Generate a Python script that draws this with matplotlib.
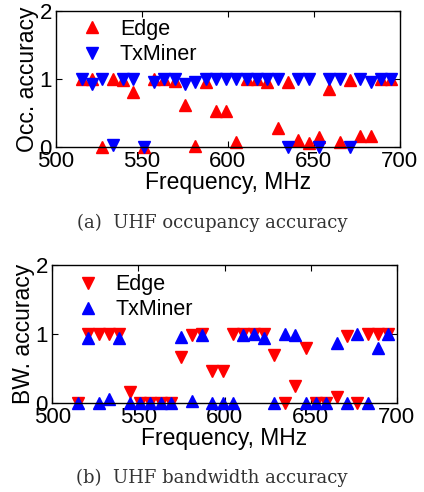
import matplotlib
matplotlib.use("Agg")
import matplotlib.pyplot as plt
import numpy as np

plt.rcParams['font.family'] = ['Liberation Sans', 'DejaVu Sans']

# UHF channel centre frequencies (MHz)
freq = np.array([515, 521, 527, 533, 539, 545, 551, 557, 563, 569, 575, 581, 587, 593, 599, 605,
                 611, 617, 623, 629, 635, 641, 647, 653, 659, 665, 671, 677, 683, 689, 695])

# (a) occupancy accuracy
occ_edge = [1.0, 1.0, 0.0, 1.0, 0.98, 0.81, 0.0, 1.0, 1.0, 0.97, 0.62, 0.02, 0.96, 0.53, 0.53, 0.08,
            1.0, 1.0, 0.96, 0.28, 0.95, 0.11, 0.06, 0.15, 0.86, 0.08, 0.99, 0.17, 0.17, 1.0, 1.0]
occ_txminer = [1.0, 0.93, 1.0, 0.03, 1.0, 1.0, 0.0, 0.95, 1.0, 1.0, 0.93, 0.95, 1.0, 1.0, 1.0, 1.0,
               1.0, 1.0, 1.0, 1.0, 0.0, 1.0, 1.0, 0.0, 1.0, 1.0, 0.0, 1.0, 0.95, 1.0, 1.0]

# (b) bandwidth accuracy
bw_edge = [0.0, 1.0, 1.0, 1.0, 1.0, 0.16, 0.0, 0.0, 0.0, 0.0, 0.66, 0.98, 1.0, 0.46, 0.46, 1.0,
           1.0, 1.0, 1.0, 0.70, 0.0, 0.25, 0.80, 0.0, 0.0, 0.09, 0.97, 0.0, 1.0, 1.0, 1.0]
bw_txminer = [0.0, 0.95, 0.0, 0.06, 0.95, 0.0, 0.0, 0.0, 0.0, 0.0, 0.96, 0.03, 0.98, 0.0, 0.0, 0.0,
              0.98, 1.0, 0.95, 0.0, 1.0, 0.98, 0.0, 0.0, 0.0, 0.87, 0.0, 1.0, 0.0, 0.80, 1.0]

xticks = [500, 550, 600, 650, 700]
yticks = [0, 1, 2]

fig = plt.figure(figsize=(4.24, 4.92), dpi=100)
ax1 = fig.add_axes([0.132, 0.701, 0.811, 0.277])
ax2 = fig.add_axes([0.123, 0.181, 0.813, 0.280])


def style(ax, ylabel, anchor):
    ax.set_xlim(500, 700)
    ax.set_ylim(0, 2)
    ax.set_xticks(xticks)
    ax.set_yticks(yticks)
    ax.tick_params(direction='in', top=True, right=True, labelsize=16, length=4, pad=3)
    ax.set_xlabel('Frequency, MHz', fontsize=16.5, labelpad=-1)
    ax.set_ylabel(ylabel, fontsize=16.5, labelpad=0)
    for s in ax.spines.values():
        s.set_linewidth(1.0)
    ax.legend(loc='upper left', bbox_to_anchor=anchor, frameon=False, fontsize=15.5,
              handletextpad=0.8, borderaxespad=0, labelspacing=0.2, handlelength=1.0,
              borderpad=0)


ms = 8
ax1.plot(freq, occ_edge, '^', color='red', ms=ms, mec='red', label='Edge', clip_on=False)
ax1.plot(freq, occ_txminer, 'v', color='blue', ms=ms, mec='blue', label='TxMiner', clip_on=False)
style(ax1, 'Occ. accuracy', (0.073, 0.94))

ax2.plot(freq, bw_edge, 'v', color='red', ms=ms, mec='red', label='Edge', clip_on=False)
ax2.plot(freq, bw_txminer, '^', color='blue', ms=ms, mec='blue', label='TxMiner', clip_on=False)
style(ax2, 'BW. accuracy', (0.072, 0.935))

fig.text(0.5, 1 - 223 / 492, '(a)  UHF occupancy accuracy', ha='center', va='center',
         fontsize=13, family='DejaVu Serif', color='#333333')
fig.text(0.5, 1 - 478 / 492, '(b)  UHF bandwidth accuracy', ha='center', va='center',
         fontsize=13, family='DejaVu Serif', color='#333333')

fig.savefig('out.png', dpi=100)
